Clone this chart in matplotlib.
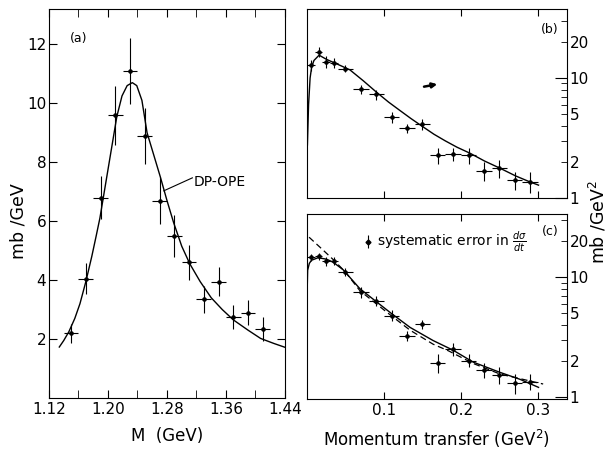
import numpy as np
import matplotlib
matplotlib.use('Agg')
import matplotlib.pyplot as plt
from matplotlib.ticker import FixedLocator, FuncFormatter, NullFormatter

# panel (a): mass spectrum
m_pts = [1.15, 1.17, 1.19, 1.21, 1.23, 1.25, 1.27, 1.29, 1.31, 1.33, 1.35, 1.37, 1.39, 1.41]
a_val = [2.2, 4.05, 6.8, 9.6, 11.1, 8.9, 6.7, 5.5, 4.6, 3.35, 3.95, 2.75, 2.9, 2.35]
a_err = [0.32, 0.52, 0.74, 1.0, 1.13, 0.95, 0.8, 0.7, 0.6, 0.46, 0.5, 0.42, 0.43, 0.4]
m_bin = 0.01

m_fit = [1.134, 1.140, 1.147, 1.155, 1.162, 1.170, 1.178, 1.184, 1.189, 1.195, 1.200,
         1.206, 1.212, 1.219, 1.226, 1.233, 1.239, 1.246, 1.253, 1.262, 1.271, 1.280,
         1.289, 1.300, 1.311, 1.325, 1.340, 1.355, 1.370, 1.390, 1.407, 1.425, 1.440]
a_fit = [1.73, 1.95, 2.25, 2.7, 3.2, 3.95, 4.8, 5.5, 6.1, 7.0, 7.75,
         8.65, 9.55, 10.25, 10.6, 10.7, 10.6, 10.1, 9.0, 8.25, 7.5, 6.7,
         5.95, 5.15, 4.55, 3.95, 3.4, 3.0, 2.65, 2.3, 2.02, 1.85, 1.72]

# panels (b), (c): momentum transfer
t_pts = [0.005, 0.015, 0.025, 0.035, 0.05, 0.07, 0.09, 0.11, 0.13, 0.15, 0.17,
         0.19, 0.21, 0.23, 0.25, 0.27, 0.29]
t_bin = [0.005, 0.005, 0.005, 0.005] + [0.01] * 13

b_val = [12.8, 16.6, 13.7, 13.4, 12.0, 8.05, 7.3, 4.7, 3.81, 4.11, 2.28,
         2.33, 2.28, 1.68, 1.77, 1.41, 1.37]
b_err = [1.4, 1.6, 1.5, 1.2, 0.8, 0.75, 0.7, 0.5, 0.35, 0.45, 0.35,
         0.3, 0.35, 0.3, 0.3, 0.25, 0.27]

c_val = [14.6, 15.0, 13.6, 13.6, 11.1, 7.46, 6.31, 4.76, 3.22, 4.03, 1.93,
         2.51, 2.01, 1.68, 1.53, 1.30, 1.34]
c_err = [1.0, 1.0, 1.2, 1.0, 0.9, 0.8, 0.6, 0.5, 0.3, 0.35, 0.35,
         0.3, 0.25, 0.25, 0.25, 0.25, 0.2]

tb_fit = [0.0005, 0.002, 0.004, 0.006, 0.009, 0.0157, 0.0253, 0.040, 0.0557, 0.073,
          0.0905, 0.106, 0.121, 0.135, 0.150, 0.165, 0.1795, 0.195, 0.212, 0.231,
          0.251, 0.271, 0.290, 0.301]
b_fit = [2.77, 6.0, 10.0, 12.3, 14.0, 15.5, 14.3, 13.0, 11.7, 9.5,
         7.6, 6.3, 5.35, 4.6, 3.95, 3.4, 3.0, 2.65, 2.36, 2.03,
         1.77, 1.53, 1.36, 1.28]

tc_fit = [0.0003, 0.0008, 0.0030, 0.0057, 0.0144, 0.0253, 0.034, 0.047, 0.0687, 0.0905,
          0.110, 0.134, 0.164, 0.190, 0.216, 0.251, 0.277, 0.301]
c_fit = [8.3, 11.4, 13.0, 13.8, 14.5, 14.1, 13.3, 11.5, 8.0, 6.2,
         4.95, 3.8, 2.95, 2.45, 1.95, 1.6, 1.4, 1.2]

tc_dash = [0.0027, 0.02, 0.034, 0.05, 0.0687, 0.1035, 0.134, 0.164, 0.184, 0.216, 0.251, 0.307]
c_dash = [21.5, 17.0, 14.0, 11.0, 7.7, 5.1, 3.6, 2.75, 2.42, 1.9, 1.55, 1.28]

fig = plt.figure(figsize=(6.07, 4.49), dpi=100)

ekw = dict(fmt='o', color='k', ms=2.3, elinewidth=0.8, capsize=0)

# (a)
ax = fig.add_axes([0.0807, 0.1136, 0.3888, 0.8664])
ax.errorbar(m_pts, a_val, yerr=a_err, xerr=m_bin, **ekw)
ax.plot(m_fit, a_fit, color='k', lw=1.0)
ax.set_xlim(1.12, 1.44)
ax.set_ylim(0, 13.2)
ax.set_xticks([1.12, 1.20, 1.28, 1.36, 1.44])
ax.set_xticklabels(['1.12', '1.20', '1.28', '1.36', '1.44'])
ax.xaxis.set_minor_locator(FixedLocator([1.16, 1.24, 1.32, 1.40]))
ax.set_yticks([2, 4, 6, 8, 10, 12])
ax.tick_params(axis='x', which='both', direction='in', top=True, length=6, labelsize=11, pad=3)
ax.tick_params(axis='y', direction='in', right=True, length=6, labelsize=11, pad=2)
ax.set_xlabel('M  (GeV)', fontsize=12, labelpad=7)
ax.text(1.148, 12.2, '(a)', fontsize=9, va='center')
ax.plot([1.2757, 1.3144], [7.03, 7.47], color='k', lw=0.8)
ax.text(1.316, 7.34, 'DP-OPE', fontsize=10, va='center')
fig.text(0.031, 0.508, 'mb /GeV', rotation=90, fontsize=12.5, ha='center', va='center')


def log_axis(ax):
    ax.set_yscale('log')
    ax.set_xlim(0, 0.338)
    ax.yaxis.tick_right()
    ax.yaxis.set_major_locator(FixedLocator([1, 10]))
    ax.yaxis.set_minor_locator(FixedLocator([2, 3, 4, 5, 6, 7, 8, 9, 20, 30]))
    ax.yaxis.set_major_formatter(FuncFormatter(lambda v, p: '%d' % v))
    ax.yaxis.set_minor_formatter(FuncFormatter(lambda v, p: '%d' % v if round(v) in (2, 5, 20) else ''))
    ax.tick_params(axis='y', which='major', direction='in', length=9, labelsize=11, pad=2)
    ax.tick_params(axis='y', which='minor', direction='in', length=4, labelsize=11, pad=2)
    ax.set_xticks([0.1, 0.2, 0.3])
    ax.tick_params(axis='x', direction='in', top=True, length=5, labelsize=11, pad=3)


# (b)
axb = fig.add_axes([0.5058, 0.559, 0.4283, 0.421])
axb.errorbar(t_pts, b_val, yerr=b_err, xerr=t_bin, **ekw)
axb.plot(tb_fit, b_fit, color='k', lw=1.0)
log_axis(axb)
axb.set_ylim(1.0, 37.6)
axb.xaxis.set_major_formatter(NullFormatter())
axb.text(0.899, 0.889, '(b)', transform=axb.transAxes, fontsize=9, va='center')
axb.annotate('', xy=(0.501, 0.602), xytext=(0.45, 0.589), xycoords='axes fraction',
             arrowprops=dict(arrowstyle='-|>', color='k', lw=1.8, mutation_scale=7,
                             shrinkA=0, shrinkB=0))

# (c)
axc = fig.add_axes([0.5058, 0.1114, 0.4283, 0.412])
axc.errorbar(t_pts, c_val, yerr=c_err, xerr=t_bin, **ekw)
axc.plot(tc_fit, c_fit, color='k', lw=1.0)
axc.plot(tc_dash, c_dash, color='k', lw=0.9, ls=(0, (5, 3)))
log_axis(axc)
axc.set_ylim(0.96, 33.6)
axc.set_xticklabels(['0.1', '0.2', '0.3'])
axc.set_xlabel('Momentum transfer (GeV$^2$)', fontsize=12, labelpad=7)
axc.errorbar([0.236], [0.85], yerr=[0.035], fmt='D', color='k', ms=2.5, elinewidth=0.8,
             transform=axc.transAxes, clip_on=False)
axc.text(0.27, 0.85, r'systematic error in $\frac{d\sigma}{dt}$', transform=axc.transAxes,
         fontsize=10, va='center')
axc.text(0.904, 0.908, '(c)', transform=axc.transAxes, fontsize=9, va='center')

fig.text(0.985, 0.506, 'mb /GeV$^2$', rotation=90, fontsize=12.5, ha='center', va='center')

plt.savefig('out.png', dpi=100)
